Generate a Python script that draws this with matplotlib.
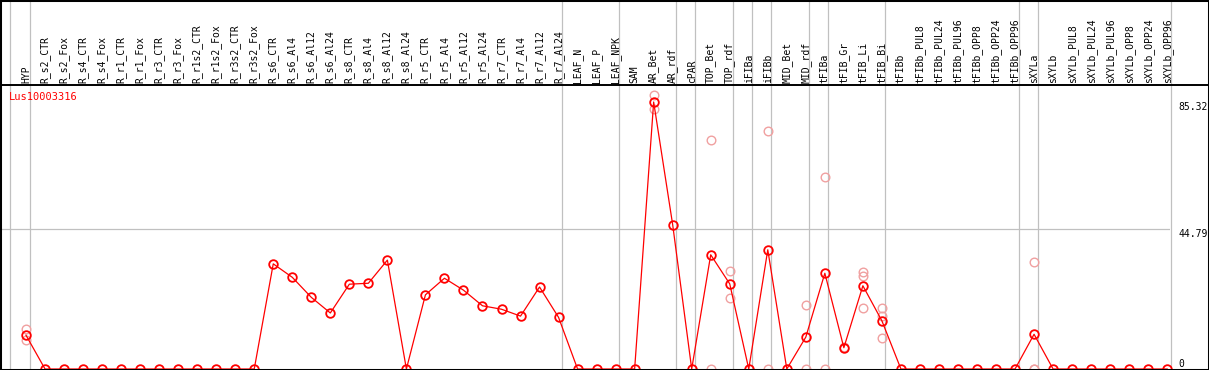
import matplotlib
matplotlib.use('Agg')
import matplotlib.pyplot as plt
import matplotlib.transforms as mtransforms
from matplotlib.lines import Line2D
from matplotlib.patches import Rectangle

gene = 'Lus10003316'

samples = ['HYP', 'R_s2_CTR', 'R_s2_Fox', 'R_s4_CTR', 'R_s4_Fox', 'R_r1_CTR', 'R_r1_Fox',
           'R_r3_CTR', 'R_r3_Fox', 'R_r1s2_CTR', 'R_r1s2_Fox', 'R_r3s2_CTR', 'R_r3s2_Fox',
           'R_s6_CTR', 'R_s6_Al4', 'R_s6_Al12', 'R_s6_Al24', 'R_s8_CTR', 'R_s8_Al4',
           'R_s8_Al12', 'R_s8_Al24', 'R_r5_CTR', 'R_r5_Al4', 'R_r5_Al12', 'R_r5_Al24',
           'R_r7_CTR', 'R_r7_Al4', 'R_r7_Al12', 'R_r7_Al24', 'LEAF_N', 'LEAF_P', 'LEAF_NPK',
           'SAM', 'AR_Bet', 'AR_rdf', 'cPAR', 'TOP_Bet', 'TOP_rdf', 'iFIBa', 'iFIBb',
           'MID_Bet', 'MID_rdf', 'tFIBa', 'tFIB_Gr', 'tFIB_Li', 'tFIB_Bi', 'tFIBb',
           'tFIBb_PUL8', 'tFIBb_PUL24', 'tFIBb_PUL96', 'tFIBb_OPP8', 'tFIBb_OPP24',
           'tFIBb_OPP96', 'sXYLa', 'sXYLb', 'sXYLb_PUL8', 'sXYLb_PUL24', 'sXYLb_PUL96',
           'sXYLb_OPP8', 'sXYLb_OPP24', 'sXYLb_OPP96']

# mean expression per sample
means = [10.8, 0, 0, 0, 0, 0, 0, 0, 0, 0, 0, 0, 0,
         33.6, 29.3, 22.9, 17.9, 27.1, 27.4, 34.8, 0,
         23.7, 29.0, 25.2, 20.2, 19.1, 16.9, 26.2, 16.5,
         0, 0, 0, 0, 85.32, 46.1, 0, 36.5, 27.2, 0, 38.1,
         0, 10.2, 30.6, 6.8, 26.6, 15.4, 0,
         0, 0, 0, 0, 0, 0, 11.1, 0, 0, 0, 0, 0, 0, 0]

# individual replicates (pale circles)
rep_samples = ['HYP', 'HYP', 'AR_Bet', 'AR_Bet', 'TOP_Bet', 'TOP_Bet', 'TOP_rdf', 'TOP_rdf',
               'iFIBb', 'iFIBb', 'MID_rdf', 'MID_rdf', 'tFIBa', 'tFIBa', 'tFIB_Gr',
               'tFIB_Li', 'tFIB_Li', 'tFIB_Li', 'tFIB_Bi', 'tFIB_Bi', 'tFIB_Bi',
               'sXYLa', 'sXYLa', 'sXYLa']
rep_values = [12.7, 9.3, 87.4, 83.2, 73.2, 0, 31.4, 22.6,
              76.1, 0, 20.5, 0, 61.3, 0, 7.0,
              30.9, 29.6, 19.4, 19.4, 16.8, 9.8,
              34.1, 0, 0]

# group separators drawn after these sample indexes
group_ends = [-1, 0, 28, 31, 34, 35, 37, 38, 39, 41, 42, 45, 52, 53, 60]

ytick_vals = [0, 44.79, 85.32]
ytick_labels = ['0', '44.79', '85.32']

W, H = 1209, 370
fig = plt.figure(figsize=(W / 100, H / 100), dpi=100)
ax = fig.add_axes([0, 1 / H, 1170 / W, 284 / H])

step = 19.02
xmin = -26 / step
ax.set_xlim(xmin, xmin + 1170 / step)
ax.set_ylim(0, 85.32 * 284 / 267)
for s in ax.spines.values():
    s.set_visible(False)
ax.set_xticks([])

mono = 'DejaVu Sans Mono'
grey = '#c0c0c0'

ax.axhline(44.79, color=grey, lw=0.9, zorder=1)
for g in group_ends:
    ax.axvline(g + 3.5 / step, ymin=0, ymax=369 / 284, color=grey, lw=0.9,
               clip_on=False, zorder=1)

xs = list(range(len(samples)))
rep_x = [samples.index(s) for s in rep_samples]
ax.plot(rep_x, rep_values, ls='none', marker='o', ms=6.2, mfc='none',
        mec='#f0a0a0', mew=1.0, clip_on=False, zorder=2)
ax.plot(xs, means, color='red', lw=0.9, marker='o', ms=6.2, mfc='none',
        mec='red', mew=1.3, clip_on=False, zorder=3)

# sample names in header
trans = mtransforms.blended_transform_factory(ax.transData, ax.transAxes)
for i, lab in enumerate(samples):
    ax.text(i, (369 - 83) / 284, lab, transform=trans, rotation=90, ha='center',
            va='bottom', fontsize=7, family=mono)

# right-hand value labels
ax.yaxis.tick_right()
ax.set_yticks(ytick_vals)
ax.set_yticklabels(ytick_labels, family=mono)
ax.tick_params(axis='y', length=0, pad=5.8, labelsize=7)
for lbl, v in zip(ax.get_yticklabels(), ytick_vals):
    lbl.set_va('bottom' if v == 0 else 'top')

fig.text(9 / W, 1 - 97 / H, gene, color='red', fontsize=7.5, family=mono,
         ha='left', va='center')

# header rule and outer frame
fig.add_artist(Line2D([0, 1], [1 - 85 / H, 1 - 85 / H], transform=fig.transFigure,
                      color='black', lw=1.4))
fig.add_artist(Rectangle((0, 0), 1, 1, transform=fig.transFigure, fill=False,
                         ec='black', lw=2.2))

fig.savefig('out.png', dpi=100)
